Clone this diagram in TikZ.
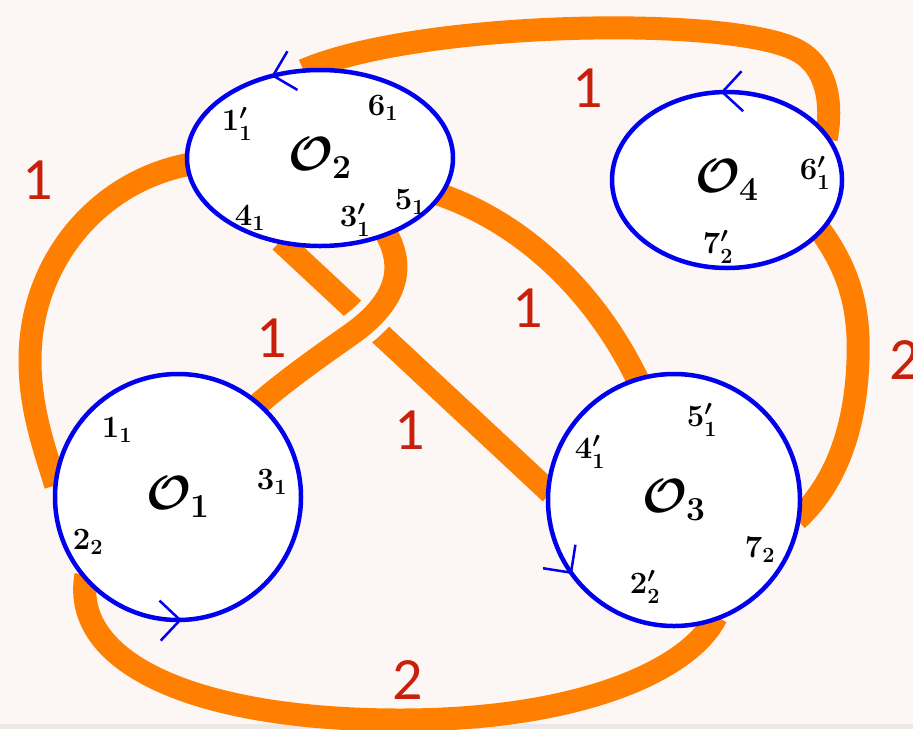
\documentclass[tikz,border=0pt]{standalone}
\usepackage{fix-cm}
\usepackage{amsmath}
\usepackage{bm}
\usepackage{fontspec}
\newfontfamily\wtfont{Carlito}
\usetikzlibrary{shapes.geometric,decorations.markings,arrows.meta,backgrounds}
\definecolor{lkbg}{RGB}{252,246,245}
\definecolor{lkrule}{RGB}{236,232,232}
\definecolor{lkband}{HTML}{FF8000}
\definecolor{lkloop}{HTML}{0000EE}
\definecolor{lkweight}{HTML}{C8200A}

\begin{document}
\begin{tikzpicture}[x=1pt, y=-1pt,
  vertex/.style={draw=lkloop, line width=4.5pt, fill=white, inner sep=0pt,
    font=\boldmath\fontsize{48}{54}\selectfont,
    postaction={decorate, decoration={markings, mark=at position #1 with
      {\arrow[lkloop, line width=2.5pt]{Straight Barb[length=20pt,width=40pt]}}}}},
  port/.style={font=\boldmath\fontsize{31}{36}\selectfont},
  weight/.style={text=lkweight, font=\wtfont\fontsize{60}{60}\selectfont},
  band/.style={draw=lkband, line width=23pt, shorten <=-6pt, shorten >=-6pt},
  over/.style={band, preaction={draw=lkbg, line width=38pt}}]
  \useasboundingbox (0,0) rectangle (913,729);
  \node[vertex=0.32, ellipse, minimum width=266pt, minimum height=176pt] (o2) at (320,158) {$\mathcal{O}_2$};
  \node[vertex=0.26, ellipse, minimum width=230pt, minimum height=176pt] (o4) at (727,180) {$\mathcal{O}_4$};
  \node[vertex=0.755, circle, minimum size=246pt] (o1) at (178,497) {$\mathcal{O}_1$};
  \node[vertex=0.6, circle, minimum size=252pt] (o3) at (674,500) {$\mathcal{O}_3$};
  \foreach \x/\y/\t [count=\i] in {237/124/1'_1, 383/108/6_1, 410/202/5_1, 355/220/3'_1, 250/218/4_1,
      815/173/6'_1, 718/247/7'_2, 117/430/1_1, 272/482/3_1, 88/542/2_2,
      702/420/5'_1, 590/452/4'_1, 760/550/7_2, 645/587/2'_2}
    \node[port] (p\i) at (\x,\y) {$\t$};
  \node[weight] (w1) at (588,88) {1};
  \node[weight] (w2) at (38,180) {1};
  \node[weight] (w3) at (272,338) {1};
  \node[weight] (w4) at (410,430) {1};
  \node[weight] (w5) at (528,308) {1};
  \node[weight] (w6) at (905,360) {2};
  \node[weight] (w7) at (408,680) {2};
  \begin{scope}[on background layer]
    \fill[lkbg] (0,0) rectangle (913,729);
    \fill[lkrule] (0,724) rectangle (913,729);
    \draw[band] (o2.97) .. controls (420,20) and (740,15) .. (800,52)
      .. controls (830,70) and (832,110) .. (o4.25);
    \draw[band] (o2.183) .. controls (100,180) and (30,260) .. (30,360)
      .. controls (30,410) and (45,450) .. (o1.172);
    \draw[band] (o2.-112) -- (o3.175);
    \draw[over] (o2.-49) .. controls (405,265) and (400,300) .. (350,335)
      .. controls (310,363) and (280,385) .. (o1.49);
    \draw[band] (o2.-17) .. controls (530,225) and (600,300) .. (o3.107);
    \draw[band] (o4.-29) .. controls (850,270) and (860,310) .. (858,360)
      .. controls (856,420) and (840,480) .. (o3.-7);
    \draw[band] (o1.-138) .. controls (70,665) and (200,720) .. (400,720)
      .. controls (580,720) and (690,670) .. (o3.-72);
  \end{scope}
\end{tikzpicture}
\end{document}
